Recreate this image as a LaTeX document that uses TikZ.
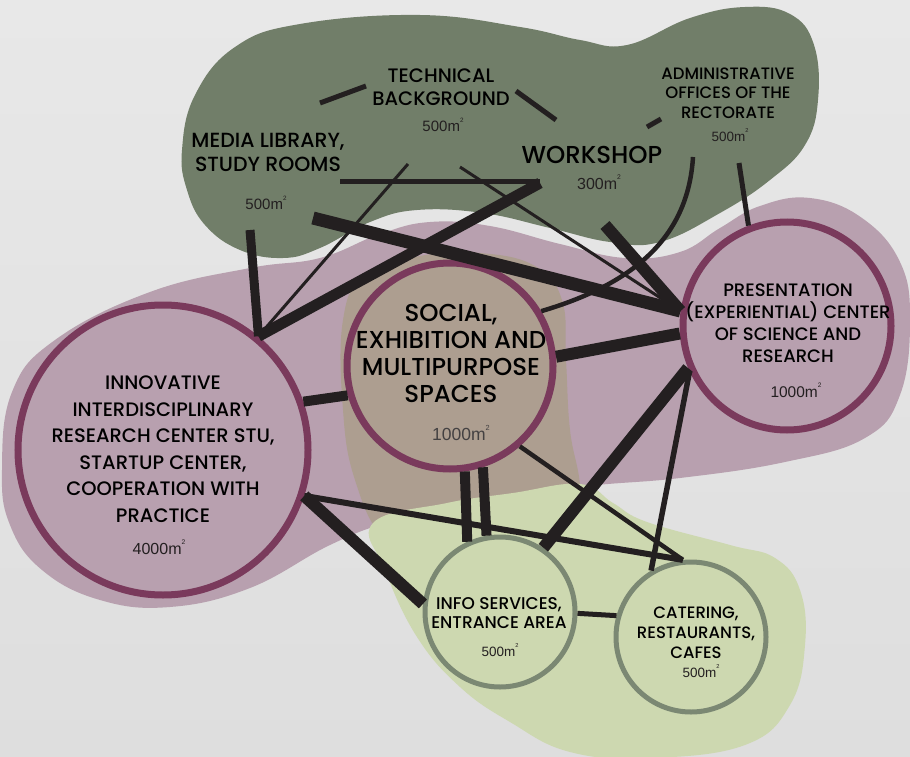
\documentclass[tikz,border=0pt]{standalone}
\usepackage{fontspec}
\usepackage{graphicx}
\IfFontExistsTF{Poppins Medium}{\setmainfont{Poppins Medium}}{\setmainfont{Poppins}[FakeBold=1.2]}
\newfontfamily\areafont{Liberation Sans}
\usetikzlibrary{positioning}

\definecolor{bgtop}{HTML}{E8E8E8}
\definecolor{bgbot}{HTML}{DEDEDE}
\definecolor{blobgreen}{HTML}{717E69}
\definecolor{blobmauve}{HTML}{B8A0AF}
\definecolor{blobsand}{HTML}{AD9E90}
\definecolor{bloblime}{HTML}{CDD8B0}
\definecolor{ringwine}{HTML}{7A3A5C}
\definecolor{ringsage}{HTML}{7B8873}
\definecolor{ink}{HTML}{231F20}

\newcommand\sq{\raisebox{.62em}{\scalebox{.42}{2}}}

\begin{document}
\begin{tikzpicture}[x=1pt,y=-1pt,
    blob/.style={smooth cycle,tension=.7},
    hub/.style={circle,inner sep=0,line width=7pt,draw=ringwine,fill=blobmauve},
    sub/.style={circle,inner sep=0,line width=5pt,draw=ringsage,fill=bloblime},
    lab/.style={align=center,inner sep=0,text=black},
    area/.style={inner sep=0,text=ink,font=\areafont\fontsize{#1}{#1}\selectfont},
    conn/.style={draw=ink,line width=#1}]
	\useasboundingbox (0,0) rectangle (910,757);
	\shade[top color=bgtop,bottom color=bgbot] (0,0) rectangle (910,757);
	% blobs
	\fill[blobgreen] plot[blob] coordinates {(182,150) (195,95) (235,47) (300,24) (420,15) (520,27) (580,40) (627,45) (690,18) (745,7) (790,14) (814,45) (818,100) (805,145) (770,180) (720,213) (660,242) (610,242) (550,228) (483,213) (417,210) (370,222) (320,248) (283,258) (240,250) (205,225) (187,190)};
	\fill[blobmauve] plot[blob] coordinates {(2,470) (12,392) (55,340) (150,292) (250,268) (320,258) (380,234) (430,222) (490,226) (560,244) (625,258) (680,252) (720,228) (760,206) (810,198) (862,218) (900,262) (910,320) (900,395) (865,438) (785,462) (680,478) (580,487) (470,505) (390,522) (330,545) (250,588) (170,607) (100,600) (42,570) (10,525)};
	\fill[blobsand] plot[blob] coordinates {(343,320) (365,275) (420,256) (480,253) (535,266) (562,300) (566,360) (570,430) (580,485) (580,540) (520,580) (440,570) (385,540) (355,480) (343,410)};
	\fill[bloblime] plot[blob] coordinates {(373,523) (447,503) (513,493) (580,484) (613,503) (647,522) (730,545) (775,558) (800,590) (805,645) (790,705) (745,745) (650,758) (570,752) (510,722) (460,687) (417,637) (385,570)};
	% circles
	\node[hub,minimum size=290pt] (innov) at (163,450) {};
	\node[hub,fill=blobsand,minimum size=206pt] (soc) at (450,366) {};
	\node[hub,minimum size=208pt] (pres) at (787,326) {};
	\node[sub,minimum size=150pt] (info) at (500,612) {};
	\node[sub,minimum size=150pt] (cafe) at (691,637) {};
	% labels
	\node[lab,font=\fontsize{19.5}{23}\selectfont] (tech) at (441,87) {TECHNICAL\\BACKGROUND};
	\node[area=15] (tech-a) at (443,125) {500m\sq};
	\node[lab,font=\fontsize{20.5}{24}\selectfont] (media) at (268,152) {MEDIA LIBRARY,\\STUDY ROOMS};
	\node[area=15] (media-a) at (266,203) {500m\sq};
	\node[lab,font=\fontsize{24.5}{26}\selectfont] (shop) at (592,155) {WORKSHOP};
	\node[area=16] (shop-a) at (599,182) {300m\sq};
	\node[lab,font=\fontsize{16.5}{19.3}\selectfont] (admin) at (728,93) {ADMINISTRATIVE\\OFFICES OF THE\\RECTORATE};
	\node[area=13.5] (admin-a) at (730,135) {500m\sq};
	\node[lab,font=\fontsize{19.5}{26.5}\selectfont] (innov-t) at (163,449) {INNOVATIVE\\INTERDISCIPLINARY\\RESEARCH CENTER STU,\\STARTUP CENTER,\\COOPERATION WITH\\PRACTICE};
	\node[area=16] (innov-a) at (159,547) {4000m\sq};
	\node[lab,font=\fontsize{24.5}{27}\selectfont] (soc-t) at (451,353) {SOCIAL,\\EXHIBITION AND\\MULTIPURPOSE\\SPACES};
	\node[area=17.5,text=ink!85] (soc-a) at (461,433) {1000m\sq};
	\node[lab,font=\fontsize{18}{22}\selectfont] (pres-t) at (788,323) {PRESENTATION\\(EXPERIENTIAL) CENTER\\OF SCIENCE AND\\RESEARCH};
	\node[area=15.5] (pres-a) at (796,390) {1000m\sq};
	\node[lab,font=\fontsize{17}{19}\selectfont] (info-t) at (499,613) {INFO SERVICES,\\ENTRANCE AREA};
	\node[area=13.5] (info-a) at (500,650) {500m\sq};
	\node[lab,font=\fontsize{16.5}{20}\selectfont] (cafe-t) at (696,633) {CATERING,\\RESTAURANTS,\\CAFES};
	\node[area=13.5] (cafe-a) at (701,671) {500m\sq};
	% free ends of the links
	\coordinate (mt) at (320,103);
	\coordinate (tm) at (366,86);
	\coordinate (tw) at (516,91);
	\coordinate (wt) at (556,120);
	\coordinate (wa) at (647,127);
	\coordinate (aw) at (661,119);
	\coordinate (mh) at (340,181);
	\coordinate (wh) at (540,181);
	\coordinate (ws) at (540,183);
	\coordinate (mv) at (250,230);
	\coordinate (ti) at (408,164);
	\coordinate (md) at (313,218);
	\coordinate (tp) at (460,167);
	\coordinate (wp) at (605,225);
	\coordinate (ac) at (693,157);
	\coordinate (ap) at (739,163);
	% links
	\draw[conn=5pt] (mt) -- (tm);
	\draw[conn=5pt] (tw) -- (wt);
	\draw[conn=5pt] (wa) -- (aw);
	\draw[conn=5pt] (mh) -- (wh);
	\draw[conn=11pt] (ws) -- (innov.50);
	\draw[conn=9pt] (mv) -- (innov.50);
	\draw[conn=3pt] (ti) -- (innov.50);
	\draw[conn=13pt] (md) -- (pres.172);
	\draw[conn=3pt] (tp) -- (pres.172);
	\draw[conn=12pt] (wp) -- (pres.172);
	\draw[conn=4.5pt] (ac) .. controls (688,240) and (630,285) .. (soc.31);
	\draw[conn=5pt] (ap) -- (pres.111);
	\draw[conn=12pt] (soc.5) -- (pres.184);
	\draw[conn=10pt] (innov.19) -- (soc.196);
	\draw[conn=10pt] (soc.-82) -- (info.115);
	\draw[conn=10pt] (soc.-72) -- (info.100);
	\draw[conn=4.5pt] (soc.-49) -- (cafe.96);
	\draw[conn=6pt] (innov.-18) -- (cafe.96);
	\draw[conn=12pt] (innov.-18) -- (info.174);
	\draw[conn=12pt] (pres.203) -- (info.56);
	\draw[conn=5.5pt] (pres.205) -- (cafe.121);
	\draw[conn=5pt] (info.-1) -- (cafe.164);
\end{tikzpicture}
\end{document}
